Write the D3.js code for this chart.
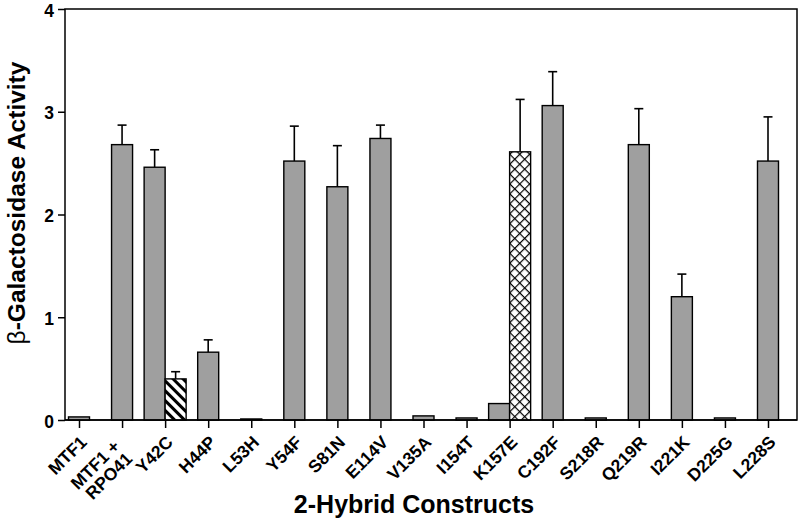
<!DOCTYPE html>
<html><head><meta charset="utf-8">
<script src="https://cdn.jsdelivr.net/npm/d3@7"></script>
<style>body{margin:0;background:#fff}svg{display:block}text{font-family:"Liberation Sans",Arial,Helvetica,sans-serif}</style>
</head><body><svg id="c" width="800" height="518"></svg>
<script>
const categories = ["MTF1","MTF1 +|RPO41","Y42C","H44P","L53H","Y54F","S81N","E114V","V135A","I154T","K157E","C192F","S218R","Q219R","I221K","D225G","L228S"];
const grayValues = [0.03,2.68,2.46,0.66,0.01,2.52,2.27,2.74,0.04,0.02,0.16,3.06,0.02,2.68,1.20,0.02,2.52];
const grayErrors = [null,0.19,0.17,0.12,null,0.34,0.40,0.13,null,null,null,0.33,null,0.35,0.22,null,0.43];
const hatchBars = [{cat:"Y42C",value:0.40,error:0.07,pattern:"diag"},{cat:"K157E",value:2.61,error:0.51,pattern:"cross"}];
const yTicks = [0,1,2,3,4];

const svg = d3.select("#c");
const L=65,R=797,T=9,B=420;
const x = d3.scalePoint().domain(categories).range([79,768]);
const y = d3.scaleLinear().domain([0,4]).range([B,T]);
const bw = 21;
const pairedCats = new Set(hatchBars.map(d=>d.cat));

const defs = svg.append("defs");
const p1 = defs.append("pattern").attr("id","diag").attr("patternUnits","userSpaceOnUse").attr("width",7).attr("height",7).attr("patternTransform","rotate(-45)");
p1.append("rect").attr("width",7).attr("height",7).attr("fill","#fff");
p1.append("rect").attr("x",0).attr("width",3).attr("height",7).attr("fill","#000");
const p2 = defs.append("pattern").attr("id","cross").attr("patternUnits","userSpaceOnUse").attr("width",7).attr("height",7).attr("patternTransform","rotate(45)");
p2.append("rect").attr("width",7).attr("height",7).attr("fill","#fff");
p2.append("rect").attr("width",1.2).attr("height",7).attr("fill","#000");
p2.append("rect").attr("width",7).attr("height",1.2).attr("fill","#000");

// frame
svg.append("rect").attr("x",L).attr("y",T).attr("width",R-L).attr("height",B-T).attr("fill","none").attr("stroke","#000").attr("stroke-width",1.5);

const grayData = categories.map((c,i)=>({cat:c,value:grayValues[i],error:grayErrors[i]}));
const gx = d => pairedCats.has(d.cat) ? x(d.cat)-bw : x(d.cat)-bw/2;
const hx = d => x(d.cat);

function errBars(data, xf){
  const g = svg.append("g").attr("stroke","#000").attr("stroke-width",1.6);
  data.filter(d=>d.error).forEach(d=>{
    const cx = xf(d)+bw/2;
    g.append("line").attr("x1",cx).attr("x2",cx).attr("y1",y(d.value)).attr("y2",y(d.value+d.error));
    g.append("line").attr("x1",cx-4.5).attr("x2",cx+4.5).attr("y1",y(d.value+d.error)).attr("y2",y(d.value+d.error));
  });
}
errBars(grayData,gx);
errBars(hatchBars,hx);

svg.append("g").selectAll("rect").data(grayData).join("rect")
  .attr("x",gx).attr("width",bw).attr("y",d=>y(d.value)).attr("height",d=>B-y(d.value))
  .attr("fill","#9f9f9f").attr("stroke","#000").attr("stroke-width",1.4);
svg.append("g").selectAll("rect").data(hatchBars).join("rect")
  .attr("x",hx).attr("width",bw).attr("y",d=>y(d.value)).attr("height",d=>B-y(d.value))
  .attr("fill",d=>`url(#${d.pattern})`).attr("stroke","#000").attr("stroke-width",1.4);

// y axis
const ya = svg.append("g").attr("transform",`translate(${L},0)`).call(d3.axisLeft(y).tickValues(yTicks).tickFormat(d3.format("d")).tickSize(7).tickPadding(4));
ya.select(".domain").remove();
ya.selectAll("line").attr("stroke","#000").attr("stroke-width",1.5);
ya.selectAll("text").attr("font-size",17.5).attr("dy","0.4em").attr("font-weight","bold").attr("fill","#000").attr("font-family","Liberation Sans, Arial, sans-serif");

// x axis
const xa = svg.append("g").attr("transform",`translate(0,${B})`).call(d3.axisBottom(x).tickSize(8).tickFormat(""));
xa.select(".domain").attr("stroke","#000").attr("stroke-width",1.5).attr("d",`M${L},0H${R}`);
xa.selectAll("line").attr("stroke","#000").attr("stroke-width",1.5);
xa.selectAll(".tick").each(function(d){
  const parts = d.split("|");
  const t = d3.select(this).append("text").attr("transform","translate(4,19) rotate(-45)")
    .attr("text-anchor","end").attr("font-size",17.5).attr("font-weight","bold").attr("fill","#000")
    .attr("font-family","Liberation Sans, Arial, sans-serif");
  if (parts.length===1) {
    t.append("tspan").attr("x",0).attr("dy","0.35em").text(parts[0]);
  } else {
    t.append("tspan").attr("x",-10).attr("y",2).text(parts[0]);
    t.append("tspan").attr("x",-10).attr("y",19.6).text(parts[1]);
  }
});

// titles
svg.append("text").attr("x",414).attr("y",513).attr("text-anchor","middle").attr("font-size",25).attr("font-weight","bold").text("2-Hybrid Constructs");
const yt = svg.append("text").attr("transform","translate(25,203) rotate(-90)").attr("text-anchor","middle").attr("font-size",24.5).attr("font-weight","bold");
yt.append("tspan").attr("font-weight","normal").text("β");
yt.append("tspan").text("-Galactosidase Activity");
</script></body></html>
